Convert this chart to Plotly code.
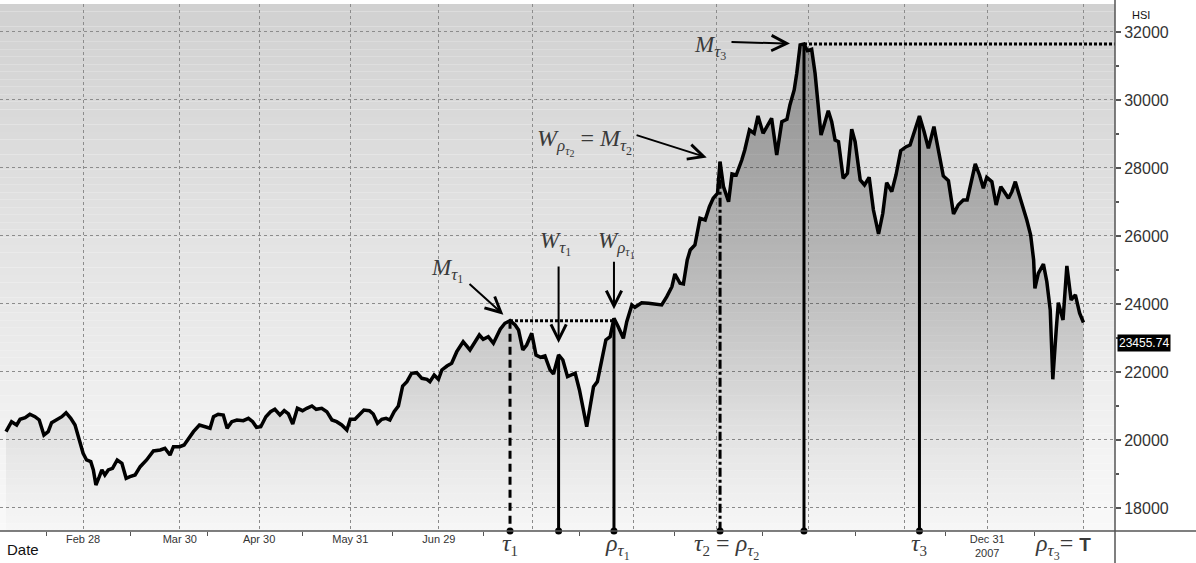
import plotly.graph_objects as go

# ---------------- data ----------------
# trading-session index (0 = first session shown) and HSI close
session = [0.0, 1.3, 2.5, 3.3, 4.5, 5.6, 6.8, 7.8, 8.9, 9.9, 10.7, 11.9, 13.1, 14.1, 15.2, 16.2,
           17.2, 18.1, 18.9, 19.9, 20.5, 21.1, 21.9, 22.5, 23.2, 24.0, 25.0, 26.1, 27.2, 28.2, 29.1,
           30.3, 31.5, 33.0, 34.6, 36.2, 37.3, 38.5, 39.3, 40.8, 41.8, 42.8, 44.0, 45.4, 46.7, 47.9,
           48.7, 49.8,
           51.0, 51.9, 53.0, 54.2, 55.7, 56.9, 57.9, 58.8, 59.8, 61.0, 62.1, 63.1, 64.3, 65.3, 66.3,
           67.3, 68.4, 69.6, 70.6, 71.8, 72.8, 74.1, 75.3, 76.5, 77.6, 78.8, 80.0, 80.8, 81.9, 82.9,
           84.0, 85.3, 86.2, 87.2, 88.2, 89.2, 90.1, 91.1, 92.1, 93.1, 94.1, 95.2, 96.4, 97.6, 98.8,
           99.5, 100.5, 101.5,
           102.3, 103.5, 104.6, 105.8, 107.3, 108.9, 110.1, 111.1, 112.0, 113.2, 114.4, 116.0, 117.1,
           118.3, 119.5, 120.3, 121.3, 122.2, 123.4, 124.4, 125.5, 126.5, 127.7, 128.5, 129.7, 130.7,
           131.8, 132.8, 133.6, 134.6, 135.5, 136.3, 137.1, 137.9, 138.8, 139.8, 140.8, 141.8, 142.7,
           143.7, 144.9, 145.7, 146.9,
           147.6, 149.2, 150.8, 152.3, 153.9, 155.1, 156.3, 157.0, 158.2, 159.0, 159.9, 160.6, 161.7,
           162.9, 164.1, 165.1, 166.0, 167.0, 167.6, 168.4, 169.6, 170.4, 171.4, 172.7, 173.4, 174.5,
           175.6, 176.5, 177.7, 178.7, 179.7, 180.9, 182.1, 183.3, 184.0, 185.0, 185.6, 186.4, 187.3,
           188.1, 189.1, 189.9, 190.7, 191.3,
           191.9, 193.0, 193.8, 194.6, 195.4, 196.5, 197.5, 198.5, 199.3, 200.5, 201.5, 202.6, 203.6,
           204.8, 205.8, 206.7, 207.9, 208.9, 210.0, 211.3, 212.2, 213.1, 214.4, 215.5, 216.5, 217.8,
           218.8, 220.0, 221.2, 222.4, 223.5, 224.7, 225.6, 226.7, 227.5, 228.5, 229.4, 230.2, 231.4,
           232.4, 233.5, 234.3, 235.3, 236.1, 236.9, 237.7, 238.7, 239.6, 240.5, 241.2, 241.5, 242.3,
           243.5, 244.3, 245.1, 245.7, 246.5, 247.0, 248.1, 249.0, 250.0, 251.0, 252.0, 252.9]

hsi = [20244, 20538, 20441, 20608, 20656, 20756, 20685, 20588, 20147, 20244, 20509, 20588, 20685,
       20803, 20638, 20441, 20000, 19609, 19412, 19362, 19118, 18676, 18921, 19118, 18971, 19118,
       19167, 19412, 19314, 18873, 18921, 18971, 19215, 19412, 19676, 19706, 19756, 19559, 19803,
       19803, 19853, 20050, 20244, 20441, 20391, 20344, 20685, 20756,
       20735, 20344, 20538, 20588, 20568, 20638, 20538, 20373, 20391, 20685, 20832, 20903, 20735,
       20862, 20765, 20470, 20932, 20862, 20932, 21000, 20903, 20932, 20832, 20588, 20538, 20441,
       20294, 20608, 20608, 20735, 20882, 20862, 20765, 20491, 20608, 20638, 20588, 20832, 21000,
       21588, 21715, 21962, 21980, 21814, 21785, 21715, 21912, 21785,
       22059, 22176, 22255, 22597, 22891, 22647, 22891, 23088, 22962, 23038, 22844, 23256, 23432,
       23509, 23382, 23235, 22647, 22794, 23138, 22500, 22432, 22470, 22059, 21941, 22500, 22353,
       21862, 21912, 21962, 21470, 20882, 20391, 20979, 21568, 21715, 22353, 22941, 23038, 23579,
       23332, 22991, 23480, 23971,
       23903, 24038, 24020, 24000, 23971, 24215, 24509, 24882, 24608, 24588, 25294, 25588, 25735,
       26520, 26470, 26862, 27108, 27255, 28185, 27450, 27009, 27823, 27794, 28235, 28529, 29117,
       29020, 29529, 29020, 29235, 29461, 28382, 29363, 29432, 29853, 30294, 30784, 31618, 31647,
       31450, 31490, 30784, 29706, 28970,
       29215, 29685, 29363, 28823, 28773, 27697, 27844, 29138, 28773, 27647, 27500, 27726, 26764,
       26059, 26667, 27567, 27303, 27794, 28509, 28627, 28676, 29020, 29529, 29067, 28578, 29215,
       28578, 27765, 27627, 26647, 26911, 27058, 27058, 27744, 28117, 27794, 27403, 27726, 27597,
       26911, 27450, 27303, 27108, 27303, 27597, 27255, 26862, 26470, 26029, 25294, 24461, 24902,
       25176, 24656, 23824, 21785, 23235, 24038, 23529, 25118, 24118, 24265, 23727, 23455.74]

# month-end sessions (x grid) and their labels
month_end = [18.1, 40.8, 59.4, 80.8, 101.6, 123.5, 147.2, 166.7, 188.3, 210.8, 230.3, 253.0]
month_label = ["Feb 28", "Mar 30", "Apr 30", "May 31", "Jun 29", "", "", "", "", "",
               "Dec 31<br>2007", ""]
mid_month = [9.6, 29.3, 47.2, 69.5, 90.6, 112.0, 134.7, 157.0, 177.5, 199.5, 220.4, 241.5]

y_ticks = [18000, 20000, 22000, 24000, 26000, 28000, 30000, 32000]
y_tick_text = ["18000", "20000", "22000", "24000", "26000", "28000", "30000", "32000"]

# event positions (indices into the series)
TAU1, W_TAU1, RHO_TAU1, TAU2, M_TAU3, TAU3 = 109, 120, 134, 157, 177, 205

X_RANGE = [-1.41, 260.3]
Y_RANGE = [17323, 32823]

SERIF = "Liberation Serif, Times New Roman, serif"
SANS = "Liberation Sans, Arial, sans-serif"
MATH = "#3a3a3a"


def sub(text, px):
    return '<sub><span style="font-size:%dpx">%s</span></sub>' % (px, text)


def sym(letter, index, s1=17, s2=12):
    """letter with subscript index; index may itself be (letter, digit)."""
    if isinstance(index, tuple):
        inner = '<span style="font-size:%dpx"><i>%s</i></span>%s' % (s1, index[0], sub(index[1], s2))
        return '<i>%s</i><sub>%s</sub>' % (letter, inner)
    return '<i>%s</i>%s' % (letter, sub(index, s1))


def sym2(letter, mid, low, s1=17, s2=12, s3=10):
    """letter with a subscript that carries its own nested subscript (e.g. W_{rho_{tau_1}})."""
    deep = '<span style="font-size:%dpx"><i>%s</i></span>' % (s2, mid[1]) + sub(low, s3)
    inner = '<span style="font-size:%dpx"><i>%s</i></span><sub>%s</sub>' % (s1, mid[0], deep)
    return '<i>%s</i><sub>%s</sub>' % (letter, inner)


fig = go.Figure()

# main HSI line with gradient fill
fig.add_trace(go.Scatter(
    x=session, y=hsi, mode="lines",
    line=dict(color="black", width=3.5),
    fill="tozeroy",
    fillgradient=dict(type="vertical", start=Y_RANGE[0], stop=32000,
                      colorscale=[[0, "rgba(0,0,0,0.01)"], [0.18, "rgba(0,0,0,0.06)"],
                                  [0.455, "rgba(0,0,0,0.17)"], [0.73, "rgba(0,0,0,0.26)"],
                                  [1, "rgba(0,0,0,0.32)"]]),
    hoverinfo="skip", showlegend=False))

# vertical event lines
events = [(TAU1, "8px,5px"), (W_TAU1, "solid"), (RHO_TAU1, "solid"),
          (TAU2, "9px,3px,3px,3px"), (M_TAU3, "solid"), (TAU3, "solid")]
for idx, dash in events:
    fig.add_trace(go.Scatter(
        x=[session[idx], session[idx]], y=[hsi[idx], Y_RANGE[0]], mode="lines",
        line=dict(color="black", width=3, dash=dash), hoverinfo="skip", showlegend=False))

fig.add_trace(go.Scatter(
    x=[session[i] for i, _ in events], y=[Y_RANGE[0]] * len(events), mode="markers",
    marker=dict(color="black", size=7), cliponaxis=False, hoverinfo="skip", showlegend=False))

# dotted horizontal levels
fig.add_trace(go.Scatter(
    x=[session[TAU1], session[RHO_TAU1]], y=[hsi[TAU1], hsi[TAU1]], mode="lines",
    line=dict(color="black", width=3, dash="3px,2px"), hoverinfo="skip", showlegend=False))
fig.add_trace(go.Scatter(
    x=[session[M_TAU3], X_RANGE[1]], y=[hsi[M_TAU3], hsi[M_TAU3]], mode="lines",
    line=dict(color="black", width=3, dash="3px,2px"), hoverinfo="skip", showlegend=False))

# background gradient of the plot area
shapes = []
N = 70
for i in range(N):
    f = (i + 0.5) / N
    c = int(round(249 - (249 - 209) * f))
    shapes.append(dict(type="rect", xref="paper", yref="paper", x0=0, x1=1,
                       y0=i / N, y1=(i + 1) / N, fillcolor=f"rgb({c},{c},{c})",
                       line=dict(width=0), layer="below"))
# frame lines
shapes.append(dict(type="line", xref="paper", yref="paper", x0=0, x1=1.08, y0=0, y1=0,
                   line=dict(color="#555", width=1.5), layer="above"))
shapes.append(dict(type="line", xref="paper", yref="paper", x0=1, x1=1, y0=-0.07, y1=1.01,
                   line=dict(color="#555", width=1.5), layer="above"))

ann = []


def math_label(text, xi, yi, xs, ys, size=23):
    ann.append(dict(x=xi, y=yi, xref="x", yref="y", text=text, showarrow=False,
                    xshift=xs, yshift=ys, font=dict(family=SERIF, size=size, color=MATH)))


def arrow(xi, yi, ax, ay, standoff):
    ann.append(dict(x=xi, y=yi, xref="x", yref="y", text="", showarrow=True,
                    ax=ax, ay=ay, arrowhead=5, arrowsize=1.5, arrowwidth=2,
                    arrowcolor="black", standoff=standoff))


# top labels and arrows
math_label(sym("M", ("τ", "1")), session[TAU1], hsi[TAU1], -63, 50)
arrow(session[TAU1], hsi[TAU1], -42, -38, 9)
math_label(sym("W", ("τ", "1")), session[W_TAU1], hsi[W_TAU1], -3, 111)
arrow(session[W_TAU1], hsi[W_TAU1], 0, -90, 12)
math_label(sym2("W", ("ρ", "τ"), "1"), session[RHO_TAU1], hsi[RHO_TAU1], 3, 74)
arrow(session[RHO_TAU1], hsi[RHO_TAU1], 0, -58, 9)
math_label(sym2("W", ("ρ", "τ"), "2") + " = " + sym("M", ("τ", "2")),
           session[TAU2], hsi[TAU2], -136, 20, 24)
arrow(session[TAU2], hsi[TAU2], -85, -27, 14)
math_label(sym("M", ("τ", "3")), session[M_TAU3], hsi[M_TAU3], -94, -4)
arrow(session[M_TAU3], hsi[M_TAU3], -74, -2, 14)


# bottom labels under the axis
def bottom_label(text, xi, xs=0, size=24):
    ann.append(dict(x=xi, y=0, xref="x", yref="paper", text=text, showarrow=False,
                    xanchor="center", yanchor="top", xshift=xs, yshift=3,
                    font=dict(family=SERIF, size=size, color=MATH)))


bottom_label('<i>τ</i>' + sub("1", 15), session[TAU1])
bottom_label(sym("ρ", ("τ", "1"), 17, 12), session[RHO_TAU1], 4)
bottom_label('<i>τ</i>' + sub("2", 15) + " = " + sym("ρ", ("τ", "2"), 17, 12), session[TAU2], 6)
bottom_label('<i>τ</i>' + sub("3", 15), session[TAU3])
bottom_label(sym("ρ", ("τ", "3"), 17, 12)
             + '= <span style="font-family:Liberation Sans;font-size:19px"><b>T</b></span>',
             session[-1], -20)

ann.append(dict(x=0, y=0, xref="paper", yref="paper", text="Date", showarrow=False,
                xanchor="left", yanchor="top", xshift=5, yshift=-8,
                font=dict(family=SANS, size=15, color="#111")))
ann.append(dict(x=1, y=1, xref="paper", yref="paper", text="HSI", showarrow=False,
                xanchor="left", yanchor="top", xshift=15, yshift=-3,
                font=dict(family=SANS, size=11, color="#111")))
# last-value flag (drawn just below the price so it clears the 24000 label)
ann.append(dict(x=1, y=hsi[-1], xref="paper", yref="y", text="%.2f" % hsi[-1], showarrow=False,
                xanchor="left", yanchor="middle", xshift=2, yshift=-21, bgcolor="black",
                borderpad=1, font=dict(family=SANS, size=12, color="white")))

fig.update_layout(
    width=1196, height=563,
    margin=dict(l=0, r=81, t=4, b=32),
    paper_bgcolor="white", plot_bgcolor="rgba(0,0,0,0)",
    showlegend=False,
    shapes=shapes, annotations=ann,
    xaxis=dict(range=X_RANGE, tickmode="array", tickvals=month_end, ticktext=month_label,
               showgrid=True, gridcolor="#8c8c8c", griddash="dot", gridwidth=1,
               zeroline=False, showline=False, ticks="",
               tickfont=dict(family=SANS, size=11, color="#333"),
               minor=dict(tickmode="array", tickvals=mid_month, ticks="outside",
                          ticklen=4, tickcolor="#555", showgrid=False)),
    yaxis=dict(range=Y_RANGE, side="right", tickmode="array", tickvals=y_ticks,
               ticktext=y_tick_text, showgrid=True, gridcolor="#8c8c8c", griddash="dot",
               gridwidth=1, zeroline=False, showline=False, ticks="outside", ticklen=5,
               tickcolor="#555", tickwidth=2,
               tickfont=dict(family=SANS, size=16, color="#333"),
               minor=dict(dtick=1000, ticks="outside", ticklen=3, tickcolor="#555",
                          showgrid=False)),
)

fig.write_html("out.html", config={"displayModeBar": False},
               post_script="document.body.style.margin='0';")
